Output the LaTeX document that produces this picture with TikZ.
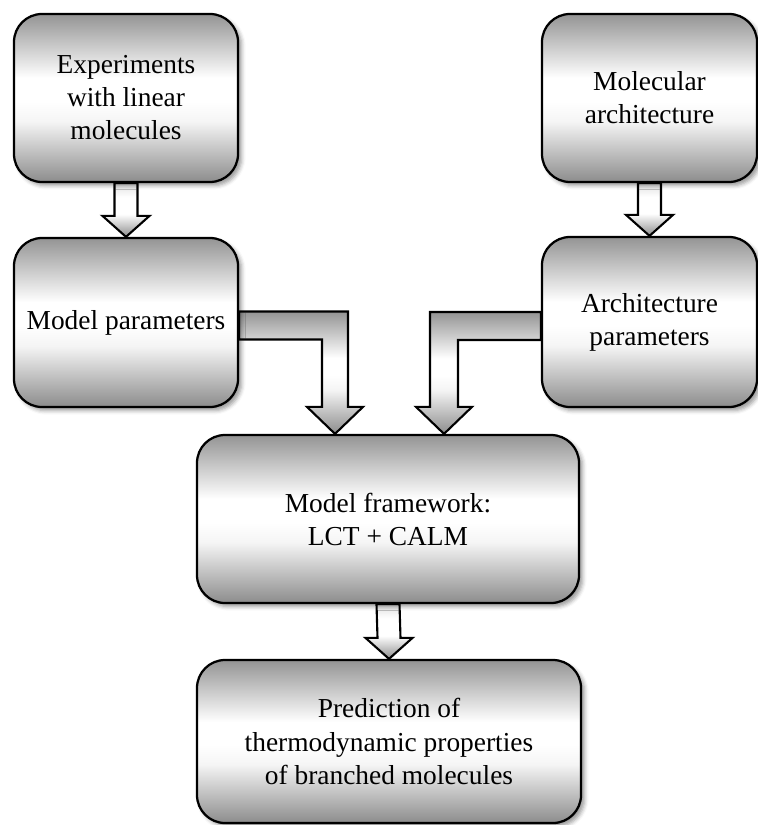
\documentclass[tikz,border=0pt]{standalone}
\usepackage{fontspec}
\setmainfont{Liberation Serif}
\usepackage{tikz}
\usetikzlibrary{calc,backgrounds,shadows.blur}

% chrome-like grey gradient for boxes and block arrows
\pgfdeclareverticalshading{boxshade}{100bp}{color(0bp)=(black!45); color(25bp)=(black!45); color(43bp)=(white!96!black); color(49bp)=(white); color(56bp)=(white); color(75bp)=(black!42); color(100bp)=(black!42)}
% light shaft, grey tip
\pgfdeclareverticalshading{tipshade}{100bp}{color(0bp)=(black!45); color(25bp)=(black!45); color(46bp)=(white); color(62bp)=(white); color(75bp)=(white!88!black); color(100bp)=(white!88!black)}

\begin{document}
\begin{tikzpicture}[x=0.25mm, y=-0.25mm, every node/.style={font=\fontsize{19.5}{23.5}\selectfont}]
  \tikzset{
    box/.style={draw, line width=1.6pt, rounded corners=7mm, align=center, shade, shading=boxshade,
      blur shadow={shadow xshift=0.9mm, shadow yshift=-0.9mm, shadow blur radius=1mm, shadow opacity=40}},
    smallarrow/.style={draw, line width=1.5pt, shade, shading=tipshade},
    bigarrow/.style={draw, line width=1.5pt, shade, shading=boxshade}
  }
  \useasboundingbox (0,0) rectangle (758,825);

  % inputs
  \node[box, minimum width=56mm, minimum height=42mm] (exp) at (126,98) {Experiments\\with linear\\molecules};
  \node[box, minimum width=53.75mm, minimum height=42mm] (mol) at (649.5,98) {Molecular\\architecture};

  % parameters
  \node[box, minimum width=56mm, minimum height=42.25mm] (mpar) at (126,322.5) {Model parameters};
  \node[box, minimum width=53.75mm, minimum height=42.5mm] (apar) at (649.5,322) {Architecture\\parameters};

  % framework and result
  \node[box, minimum width=95.5mm, minimum height=42mm] (frame) at (388,519) {Model framework:\\LCT + CALM};
  \node[box, minimum width=96mm, minimum height=40.75mm] (pred) at (389,741.5) {Prediction of\\thermodynamic properties\\of branched molecules};

  \coordinate (ltip) at ($(frame.north)+(-53,0)$);
  \coordinate (rtip) at ($(frame.north)+(56,0)$);

  \begin{scope}[on background layer]
    % straight block arrows
    \foreach \a/\b in {exp/mpar, mol/apar, frame/pred} {
      \draw[smallarrow] ($(\a.south)+(-11.5,0)$) -- ($(\b.north)+(-11.5,-21)$) -- ++(-12,0) -- (\b.north)
        -- ++(23.5,-21) -- ++(-12,0) -- ($(\a.south)+(11.5,0)$) -- cycle;
    }
    % elbow block arrows into the framework
    \draw[bigarrow] ($(mpar.east)+(0,-11)$) -| ($(ltip)+(13,-27)$) -- ++(15,0) -- (ltip)
      -- ++(-28,-27) -- ++(15,0) |- ($(mpar.east)+(0,17)$) -- cycle;
    \draw[bigarrow] ($(apar.west)+(0,-10)$) -| ($(rtip)+(-14,-27)$) -- ++(-14,0) -- (rtip)
      -- ++(28,-27) -- ++(-14,0) |- ($(apar.west)+(0,18)$) -- cycle;
  \end{scope}
\end{tikzpicture}
\end{document}
